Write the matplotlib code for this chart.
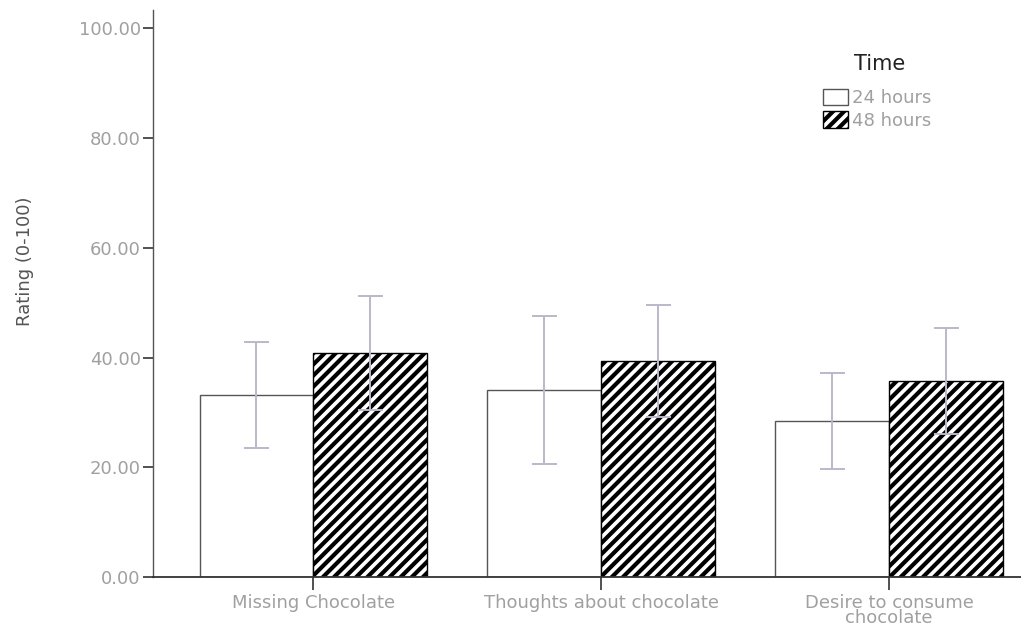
import matplotlib
matplotlib.use('Agg')
import matplotlib.pyplot as plt
import numpy as np

categories = ['Missing Chocolate', 'Thoughts about chocolate', 'Desire to consume\nchocolate']
series = ['24 hours', '48 hours']
means_24 = [33.2, 34.1, 28.4]
means_48 = [40.8, 39.3, 35.7]
ci_24 = [9.6, 13.5, 8.8]
ci_48 = [10.4, 10.2, 9.7]
yticks = [0, 20, 40, 60, 80, 100]

plt.rcParams['font.family'] = 'DejaVu Sans'
plt.rcParams['hatch.linewidth'] = 3.0

fig = plt.figure(figsize=(10.21, 6.27), dpi=100)
ax = fig.add_axes([0.15, 0.0797, 0.85, 0.904])

x = np.arange(1, len(categories) + 1)
w = 0.395
err_kw = dict(ecolor='#b9b9c9', elinewidth=1.4, capsize=9, capthick=1.4)

ax.bar(x - w / 2, means_24, w, yerr=ci_24, color='white', edgecolor='#555555',
       linewidth=1.0, error_kw=err_kw, label=series[0], zorder=2)
ax.bar(x + w / 2, means_48, w, yerr=ci_48, color='white', edgecolor='black',
       hatch='///', linewidth=1.0, error_kw=err_kw, label=series[1], zorder=2)

ax.set_xlim(0.444, 3.458)
ax.set_ylim(0, 103.3)
ax.set_yticks(yticks)
ax.set_yticklabels([f'{v:.2f}' for v in yticks], color='#a0a0a0', fontsize=13)
ax.set_xticks(x)
ax.set_xticklabels(categories, color='#a0a0a0', fontsize=13, linespacing=0.8)
ax.tick_params(axis='y', length=7, width=1.2, color='#333333', pad=2)
ax.tick_params(axis='x', length=9, width=1.2, color='#333333', pad=3)

for s in ['top', 'right']:
    ax.spines[s].set_visible(False)
ax.spines['left'].set_color('#555555')
ax.spines['bottom'].set_color('#333333')
ax.spines['left'].set_linewidth(1.0)
ax.spines['bottom'].set_linewidth(1.3)

ax.set_ylabel('Rating (0-100)', color='#555555', fontsize=13)
ax.yaxis.set_label_coords(-0.137, 0.557)

fig.text(880 / 1021, 1 - 64 / 627, 'Time', ha='center', va='center',
         fontsize=15, color='#222222')
ax.legend(loc='upper left', bbox_to_anchor=(0.797, 0.873),
          bbox_transform=fig.transFigure, borderpad=0,
          frameon=False, fontsize=13,
          handlelength=1.4, handleheight=1.0, handletextpad=0.2,
          labelspacing=0.25, labelcolor='#a0a0a0')

plt.savefig('out.png', dpi=100)
